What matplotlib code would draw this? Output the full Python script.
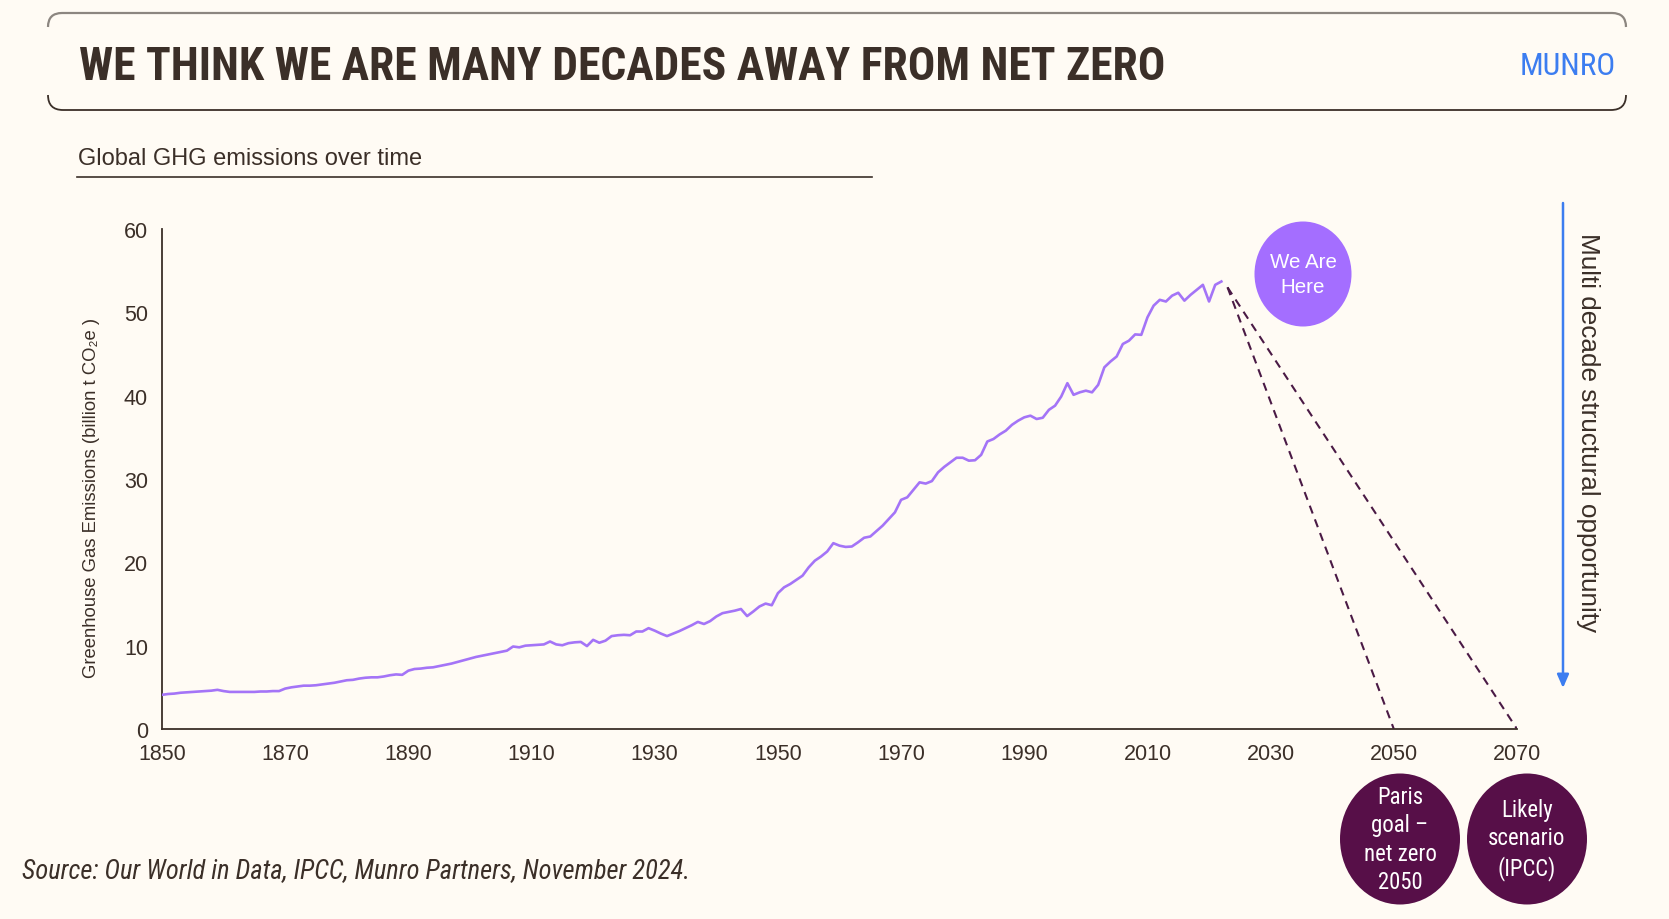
import matplotlib
matplotlib.use('Agg')
import matplotlib.pyplot as plt
from matplotlib import font_manager
from matplotlib.font_manager import FontProperties
from matplotlib.patches import Ellipse, PathPatch
from matplotlib.path import Path

# datos
years = list(range(1850, 2023))
emissions = [
    4.1, 4.2, 4.25, 4.35, 4.4, 4.45, 4.5, 4.55, 4.6, 4.7,            # 1850s
    4.55, 4.45, 4.45, 4.45, 4.45, 4.45, 4.5, 4.5, 4.55, 4.55,        # 1860s
    4.85, 5.0, 5.1, 5.2, 5.2, 5.25, 5.35, 5.45, 5.55, 5.7,           # 1870s
    5.85, 5.9, 6.05, 6.15, 6.2, 6.2, 6.3, 6.45, 6.55, 6.5,           # 1880s
    7.0, 7.2, 7.25, 7.35, 7.4, 7.55, 7.7, 7.85, 8.05, 8.25,          # 1890s
    8.45, 8.65, 8.8, 8.95, 9.1, 9.25, 9.4, 9.9, 9.8, 10.0,           # 1900s
    10.05, 10.1, 10.15, 10.5, 10.15, 10.05, 10.3, 10.4, 10.45, 9.95, # 1910s
    10.7, 10.35, 10.6, 11.15, 11.25, 11.3, 11.25, 11.7, 11.7, 12.1,  # 1920s
    11.8, 11.45, 11.15, 11.45, 11.75, 12.1, 12.45, 12.85, 12.6, 12.95,  # 1930s
    13.5, 13.9, 14.05, 14.2, 14.4, 13.55, 14.1, 14.7, 15.05, 14.85,  # 1940s
    16.3, 17.0, 17.4, 17.9, 18.4, 19.4, 20.2, 20.7, 21.3, 22.3,      # 1950s
    22.0, 21.85, 21.9, 22.4, 22.95, 23.1, 23.75, 24.4, 25.2, 26.0,   # 1960s
    27.5, 27.8, 28.7, 29.6, 29.45, 29.75, 30.8, 31.45, 32.0, 32.55,  # 1970s
    32.55, 32.2, 32.25, 32.9, 34.5, 34.8, 35.35, 35.8, 36.5, 37.0,   # 1980s
    37.4, 37.6, 37.2, 37.35, 38.3, 38.8, 39.9, 41.5, 40.1, 40.4,     # 1990s
    40.6, 40.4, 41.3, 43.4, 44.1, 44.7, 46.2, 46.6, 47.35, 47.3,     # 2000s
    49.4, 50.8, 51.5, 51.3, 52.0, 52.35, 51.4, 52.1, 52.7, 53.3,     # 2010s
    51.3, 53.3, 53.7,                                                # 2020s
]

# proyecciones
proj_start_year = 2023
proj_start_value = 53.0
paris_year = 2050
likely_year = 2070

xticks = list(range(1850, 2071, 20))
yticks = list(range(0, 61, 10))

# colores
bg = '#FFFBF4'
ink = '#3B2F28'
lilac = '#A474F7'
lilac_dot = '#A46EFF'
plum = '#570F48'
dash_col = '#4A1A45'
blue = '#3C7DF0'

plain = ['Liberation Sans', 'DejaVu Sans']


# buscamos una fuente estrecha instalada
def find_condensed(bold=False, italic=False):
    prefer = ['Liberation Sans Narrow', 'Roboto Condensed', 'Noto Sans', 'Open Sans',
              'Noto Sans Condensed', 'DejaVu Sans']
    found = []
    for f in font_manager.fontManager.ttflist:
        narrowish = (f.stretch not in ('normal', 500, 'medium')
                     or any(w in f.name for w in ('Narrow', 'Condensed', 'Cond')))
        if not narrowish:
            continue
        if isinstance(f.stretch, str) and 'expanded' in f.stretch:
            continue
        w = f.weight if isinstance(f.weight, int) else {'bold': 700, 'normal': 400}.get(f.weight, 400)
        if bold != (w >= 600):
            continue
        if not bold and w < 350:
            continue
        if italic != (f.style in ('italic', 'oblique')):
            continue
        rank = prefer.index(f.name) if f.name in prefer else len(prefer)
        found.append((rank, f.fname))
    if found:
        return FontProperties(fname=sorted(found)[0][1])
    return FontProperties(family='Liberation Sans',
                          weight='bold' if bold else 'normal',
                          style='italic' if italic else 'normal')


cond_bold = find_condensed(bold=True)
cond_reg = find_condensed()
cond_ital = find_condensed(italic=True)

W, H = 1669, 920
fig = plt.figure(figsize=(W / 100, H / 100), dpi=100, facecolor=bg)

# eje principal
ax = fig.add_axes([162 / W, 190 / H, 1355 / W, 500 / H])
ax.set_facecolor(bg)
ax.plot(years, emissions, color=lilac, lw=1.9, solid_joinstyle='round', zorder=3)
ax.plot([proj_start_year, paris_year], [proj_start_value, 0], color=dash_col,
        lw=1.5, linestyle=(0, (4, 3)), zorder=2)
ax.plot([proj_start_year, likely_year], [proj_start_value, 0], color=dash_col,
        lw=1.5, linestyle=(0, (4, 3)), zorder=2)

ax.set_xlim(1850, 2070)
ax.set_ylim(0, 60)
ax.set_xticks(xticks)
ax.set_yticks(yticks)
for s in ['top', 'right']:
    ax.spines[s].set_visible(False)
for s in ['left', 'bottom']:
    ax.spines[s].set_color(ink)
    ax.spines[s].set_linewidth(1.3)
ax.tick_params(axis='both', length=0, labelsize=15.5, labelcolor=ink)
ax.tick_params(axis='y', pad=10)
ax.tick_params(axis='x', pad=10)
for lab in ax.get_xticklabels() + ax.get_yticklabels():
    lab.set_family(plain)

ax.set_ylabel('Greenhouse Gas Emissions (billion t CO\u2082e )', fontsize=13.3,
              color=ink, family=plain)
ax.yaxis.set_label_coords(-0.046, 0.464)

# capa de decoración en píxeles
ov = fig.add_axes([0, 0, 1, 1], zorder=5)
ov.set_xlim(0, W)
ov.set_ylim(H, 0)
ov.axis('off')
ov.patch.set_alpha(0)

# marco de la cabecera (solo esquinas y líneas horizontales)
top = Path([(48, 28), (48, 14), (62, 14), (1612, 14), (1626, 14), (1626, 28)],
           [Path.MOVETO, Path.CURVE3, Path.CURVE3, Path.LINETO, Path.CURVE3, Path.CURVE3])
bot = Path([(48, 96), (48, 111), (63, 111), (1611, 111), (1626, 111), (1626, 96)],
           [Path.MOVETO, Path.CURVE3, Path.CURVE3, Path.LINETO, Path.CURVE3, Path.CURVE3])
ov.add_patch(PathPatch(top, fill=False, edgecolor='#8C8680', lw=1.6))
ov.add_patch(PathPatch(bot, fill=False, edgecolor=ink, lw=1.3))

title = ov.text(79, 80, 'WE THINK WE ARE MANY DECADES AWAY FROM NET ZERO',
                fontproperties=cond_bold, fontsize=32, color=ink,
                va='baseline', ha='left')
munro = ov.text(1616, 75, 'MUNRO', fontproperties=cond_reg, fontsize=21,
                color=blue, va='baseline', ha='right')

# subtítulo
ov.text(78, 165, 'Global GHG emissions over time', fontsize=17, color=ink,
        family=plain, va='baseline', ha='left')
ov.plot([77, 872], [178, 178], color=ink, lw=1.2)

# burbuja "We Are Here"
ov.add_patch(Ellipse((1303, 275), 97, 105, color=lilac_dot, lw=0))
ov.text(1303, 275, 'We Are\nHere', fontsize=14.8, color='white', family=plain,
        ha='center', va='center', linespacing=1.4)

# burbujas de escenarios
ov.add_patch(Ellipse((1400, 840), 120, 131, color=plum, lw=0))
paris = ov.text(1400, 840, 'Paris\ngoal \u2013\nnet zero\n2050', fontproperties=cond_reg,
                fontsize=15, color='white', ha='center', va='center', linespacing=1.3)
ov.add_patch(Ellipse((1527, 840), 120, 131, color=plum, lw=0))
likely = ov.text(1527, 840, 'Likely\nscenario\n(IPCC)', fontproperties=cond_reg,
                 fontsize=15, color='white', ha='center', va='center', linespacing=1.3)

# flecha de oportunidad
ov.annotate('', xy=(1563, 689), xytext=(1563, 204),
            arrowprops=dict(arrowstyle='-|>,head_width=0.35,head_length=0.8',
                            color=blue, lw=1.8, shrinkA=0, shrinkB=0))
ov.text(1588, 433, 'Multi decade structural opportunity', fontsize=18.8, color=ink,
        family=plain, rotation=-90, ha='center', va='center')

# fuente
source = ov.text(22, 878, 'Source: Our World in Data, IPCC, Munro Partners, November 2024.',
                 fontproperties=cond_ital, fontsize=18, color=ink,
                 ha='left', va='baseline')

# ajustamos tamaños al ancho del original
fig.canvas.draw()
rend = fig.canvas.get_renderer()
for txt, target, cap in [(title, 1089, 40), (munro, 96, 24), (source, 670, 21),
                         (paris, 73, 17)]:
    wpx = txt.get_window_extent(rend).width
    txt.set_fontsize(min(txt.get_fontsize() * target / wpx, cap))
likely.set_fontsize(paris.get_fontsize())

fig.savefig('out.png', dpi=100, facecolor=bg)
